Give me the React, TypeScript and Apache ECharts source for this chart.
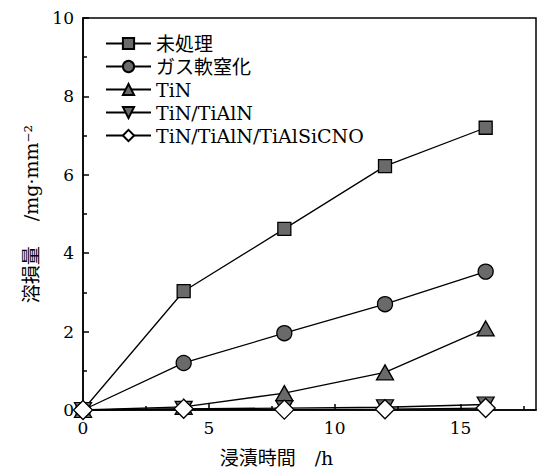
import React, { useEffect, useRef } from "react";
import * as echarts from "echarts";

const hours = [0, 4, 8, 12, 16];
const untreated = [0, 3.03, 4.62, 6.22, 7.2];
const gasNitrided = [0, 1.2, 1.96, 2.7, 3.53];
const tin = [0, 0.08, 0.43, 0.96, 2.08];
const tinTialn = [0, 0.03, 0.05, 0.07, 0.14];
const tinTialnTialsicno = [0, 0.03, 0.01, 0.02, 0.05];

const seriesNames = ["未処理", "ガス軟窒化", "TiN", "TiN/TiAlN", "TiN/TiAlN/TiAlSiCNO"];
const xMajorTicks = [0, 5, 10, 15];
const xMinorTicks = [2.5, 7.5, 12.5, 17.5];

const FONT = "DejaVu Serif, Noto Sans CJK JP, serif";
const GREY = "#6a6a6a";

export default function App() {
  const ref = useRef<HTMLDivElement>(null);
  useEffect(() => {
    if (!ref.current) return;
    const chart = echarts.init(ref.current, undefined, { renderer: "svg" });
    const toPairs = (v: number[]) => hours.map((h, i) => [h, v[i]]);
    const lineBase = (name: string, data: number[], symbol: string, size: any, fill: string, extra: any = {}) => ({
      name,
      type: "line",
      data: toPairs(data),
      symbol,
      symbolSize: size,
      showSymbol: true,
      lineStyle: { color: "#000", width: 1.3 },
      itemStyle: { color: fill, borderColor: "#000", borderWidth: 1.3 },
      emphasis: { disabled: true },
      ...extra,
    });
    const txt = { fontFamily: FONT, fontSize: 19, color: "#000", fontWeight: "normal" as const };
    chart.setOption({
      animation: false,
      backgroundColor: "#fff",
      textStyle: txt,
      grid: {
        left: 83,
        top: 18,
        right: 2,
        bottom: 63,
        show: true,
        borderColor: "#000",
        borderWidth: 1.5,
      },
      legend: {
        orient: "vertical",
        left: 105,
        top: 34,
        padding: 0,
        itemWidth: 45,
        itemHeight: 14,
        itemGap: 4,
        data: seriesNames,
        textStyle: { ...txt, lineHeight: 18 },
      },
      xAxis: [
        {
          type: "value",
          min: 0,
          max: 18,
          position: "bottom",
          name: "浸漬時間　/h",
          nameLocation: "middle",
          nameGap: 38,
          nameTextStyle: { ...txt, padding: [0, 66, 0, 0] },
          axisLine: { show: true, lineStyle: { color: "#000", width: 1.5 } },
          axisTick: { show: true, inside: true, length: 6, lineStyle: { color: "#000", width: 1.5 }, customValues: xMajorTicks },
          axisLabel: { ...txt, fontSize: 17, margin: 9, customValues: xMajorTicks },
          splitLine: { show: false },
        },
        {
          type: "value",
          min: 0,
          max: 18,
          position: "bottom",
          axisLine: { show: false },
          axisTick: { show: true, inside: true, length: 4, lineStyle: { color: "#000", width: 1.5 }, customValues: xMinorTicks },
          axisLabel: { show: false },
          splitLine: { show: false },
        },
      ],
      yAxis: {
        type: "value",
        min: 0,
        max: 10,
        interval: 2,
        name: "溶損量　 /mg·mm⁻²",
        nameLocation: "middle",
        nameGap: 43,
        nameTextStyle: txt,
        axisLine: { show: true, lineStyle: { color: "#000", width: 1.5 } },
        axisTick: { show: true, inside: true, length: 6, lineStyle: { color: "#000", width: 1.5 } },
        minorTick: { show: true, splitNumber: 2, length: 4, lineStyle: { color: "#000", width: 1.5 } },
        axisLabel: { ...txt, fontSize: 17, margin: 9 },
        splitLine: { show: false },
        minorSplitLine: { show: false },
      },
      series: [
        lineBase(seriesNames[0], untreated, "rect", 13, GREY),
        lineBase(seriesNames[1], gasNitrided, "circle", 15, GREY),
        lineBase(seriesNames[2], tin, "triangle", [17, 15], GREY),
        lineBase(seriesNames[3], tinTialn, "triangle", [17, 15], GREY, { symbolRotate: 180 }),
        lineBase(seriesNames[4], tinTialnTialsicno, "diamond", [19, 19], "#fff"),
      ],
    });
    return () => chart.dispose();
  }, []);
  return (
    <div
      ref={ref}
      style={{ position: "fixed", left: 0, top: 0, width: 538, height: 473, background: "#fff" }}
    />
  );
}
